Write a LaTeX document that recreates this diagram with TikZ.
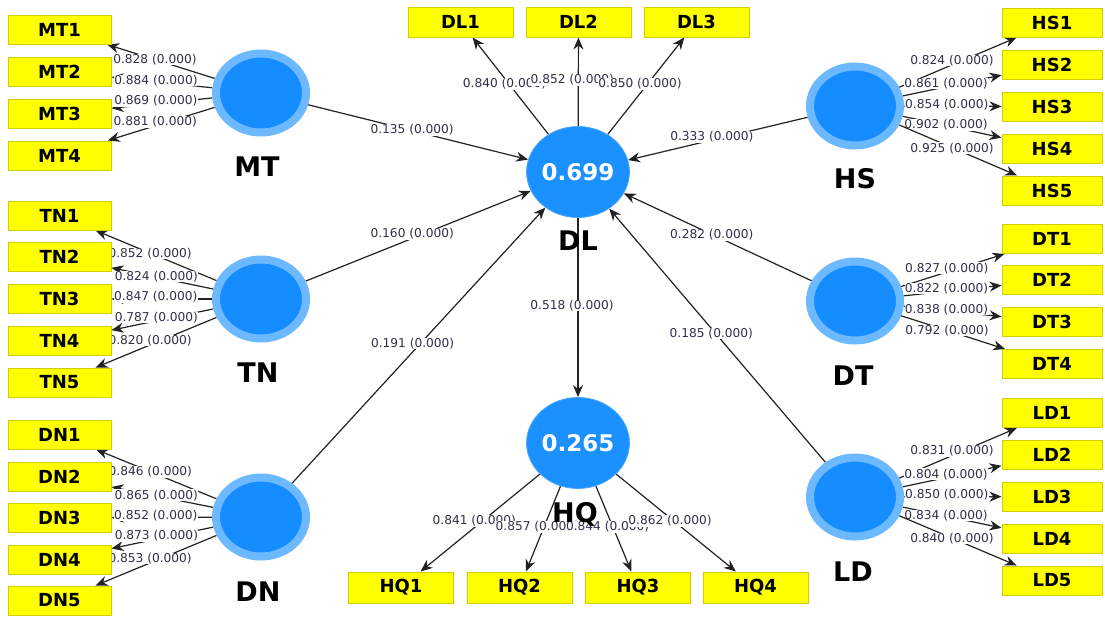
\documentclass[tikz,border=0pt]{standalone}
\usepackage{fontspec}
\setmainfont{DejaVu Sans}
\usetikzlibrary{shapes.geometric,arrows.meta}
\pgfdeclarelayer{edges}
\pgfsetlayers{edges,main}
\definecolor{ringc}{HTML}{6DB9FF}
\definecolor{corec}{HTML}{158DFF}
\definecolor{endoc}{HTML}{1B91FF}
\definecolor{ylw}{HTML}{FFFF00}
\definecolor{ylwb}{HTML}{CFCF00}
\definecolor{lbltext}{HTML}{30304A}
\definecolor{edgec}{HTML}{222222}
\tikzset{
  exo/.style={ellipse, draw=ringc, line width=8pt, fill=corec, minimum width=90pt, minimum height=79pt, inner sep=0pt},
  endo/.style={ellipse, draw=endoc!80!white, line width=0.8pt, fill=endoc, minimum width=100pt, minimum height=91pt, inner sep=0pt, text=white, font=\bfseries\fontsize{23}{26}\selectfont},
  ind/.style={rectangle, draw=ylwb, line width=1pt, fill=ylw, minimum width=103pt, minimum height=29pt, inner sep=0pt, font=\bfseries\fontsize{18}{20}\selectfont},
  indw/.style={ind, minimum width=105pt, minimum height=30pt},
  indr/.style={ind, minimum width=100pt},
  lvname/.style={font=\bfseries\fontsize{27}{30}\selectfont, inner sep=0pt},
  conn/.style={draw=edgec, line width=1.2pt, -{Stealth[length=12pt,width=10pt]}},
  coef/.style={fill=white, inner sep=0.4pt, text=lbltext, font=\fontsize{12.2}{14}\selectfont, xshift=-6pt, yshift=2pt},
}
\begin{document}
\begin{tikzpicture}[x=1pt,y=-1pt]
\useasboundingbox (0,0) rectangle (1105,616);
% indicators left
\foreach \n/\y in {MT1/29.5,MT2/71.5,MT3/113.5,MT4/155.5,TN1/215.5,TN2/257,TN3/299,TN4/341,TN5/382.5,DN1/434.5,DN2/476.5,DN3/518,DN4/559.5,DN5/600.5}
  \node[ind] (\n) at (59.5,\y) {\n};
% indicators right
\foreach \n/\y in {HS1/22.5,HS2/64.5,HS3/106.5,HS4/148.5,HS5/190.5,DT1/239,DT2/280,DT3/322,DT4/364,LD1/413,LD2/455,LD3/496.5,LD4/538.5,LD5/580.5}
  \node[indr] (\n) at (1052,\y) {\n};
% indicators top / bottom
\foreach \n/\x in {DL1/460.5,DL2/578.5,DL3/696.5}
  \node[indw] (\n) at (\x,22) {\n};
\foreach \n/\x in {HQ1/401,HQ2/519.5,HQ3/638,HQ4/755.5}
  \node[indw, minimum height=31pt] (\n) at (\x,587.5) {\n};
% latent variables
\node[exo] (MT) at (261,93) {};
\node[exo] (TN) at (261,299) {};
\node[exo] (DN) at (261,517) {};
\node[exo] (HS) at (855,106) {};
\node[exo] (DT) at (855,301) {};
\node[exo] (LD) at (855,497) {};
\node[endo] (DL) at (578,172) {0.699};
\node[endo] (HQ) at (578,443) {0.265};
% latent names
\node[lvname] (MTn) at (257,167) {MT};
\node[lvname] (TNn) at (258,373) {TN};
\node[lvname] (DNn) at (258,592) {DN};
\node[lvname] (HSn) at (855,179) {HS};
\node[lvname] (DTn) at (853,376) {DT};
\node[lvname] (LDn) at (853,572) {LD};
\node[lvname] (DLn) at (578,241) {DL};
\node[lvname] (HQn) at (575,514) {HQ};
% connectors
\begin{pgfonlayer}{edges}
\foreach \s/\t/\v in {MT/MT1/0.828,MT/MT2/0.884,MT/MT3/0.869,MT/MT4/0.881,
  TN/TN1/0.852,TN/TN2/0.824,TN/TN3/0.847,TN/TN4/0.787,TN/TN5/0.820,
  DN/DN1/0.846,DN/DN2/0.865,DN/DN3/0.852,DN/DN4/0.873,DN/DN5/0.853,
  HS/HS1/0.824,HS/HS2/0.861,HS/HS3/0.854,HS/HS4/0.902,HS/HS5/0.925,
  DT/DT1/0.827,DT/DT2/0.822,DT/DT3/0.838,DT/DT4/0.792,
  LD/LD1/0.831,LD/LD2/0.804,LD/LD3/0.850,LD/LD4/0.834,LD/LD5/0.840,
  DL/DL1/0.840,DL/DL2/0.852,DL/DL3/0.850,
  HQ/HQ1/0.841,HQ/HQ2/0.857,HQ/HQ3/0.844,HQ/HQ4/0.862,
  MT/DL/0.135,TN/DL/0.160,DN/DL/0.191,HS/DL/0.333,DT/DL/0.282,LD/DL/0.185,DL/HQ/0.518}
  \draw[conn] (\s) -- node[coef] {\v\ (0.000)} (\t);
\end{pgfonlayer}
\end{tikzpicture}
\end{document}
